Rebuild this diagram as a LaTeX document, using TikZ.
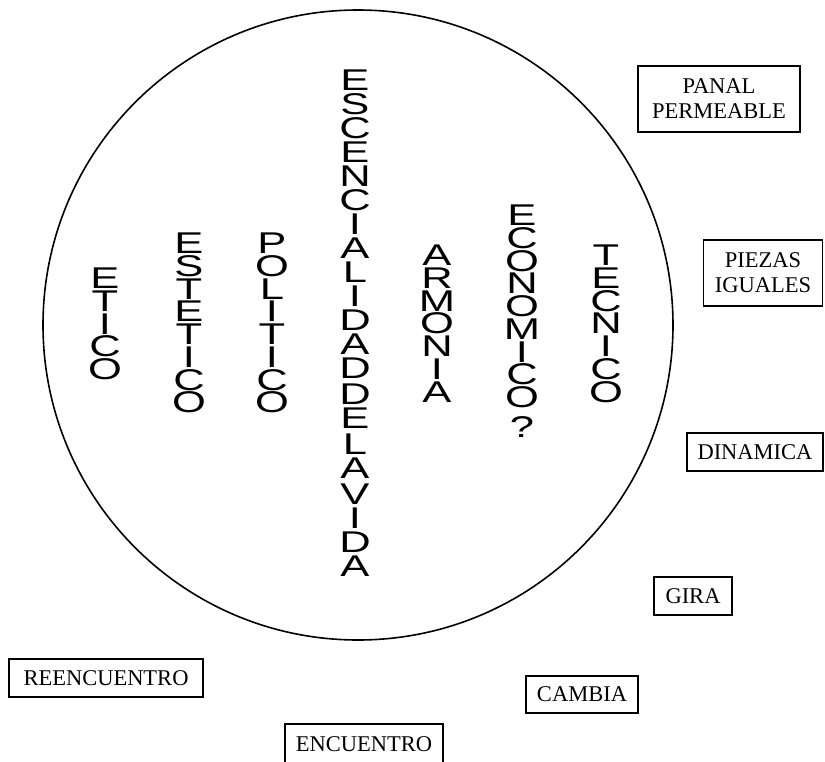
\documentclass[tikz,border=0pt]{standalone}
\usepackage{fontspec}
\usepackage{graphicx}
\newfontfamily\lettersans{Liberation Sans}
\newfontfamily\boxserif{Liberation Serif}
% a word written as a column of stacked capitals; #1 = row pitch, #2 = rows
\newcommand\stackword[2]{%
  \scalebox{1.45}[1]{\vbox{\lettersans\fontsize{30}{#1}\selectfont
    \baselineskip=#1\lineskiplimit=-100pt\lineskip=0pt
    \halign{\hfil##\hfil\cr #2}}}}
\tikzset{
  word/.style={anchor=north, inner sep=0pt},
  label box/.style={draw, line width=1.5pt, inner sep=0pt, align=center,
    font=\boxserif\fontsize{22.5}{25}\selectfont},
}
\begin{document}
\begin{tikzpicture}[x=1pt, y=-1pt]
  \useasboundingbox (0,0) rectangle (825,761);

  % the big circle
  \node[draw, circle, line width=1.6pt, minimum size=630pt, inner sep=0pt]
    (ring) at (358,325) {};

  % vertical words inside the circle
  \node[word] (etico) at (105,268) {\stackword{22.7pt}{E\cr T\cr I\cr C\cr O\cr}};
  \node[word] (estetico) at (189,233) {\stackword{22.7pt}{E\cr S\cr T\cr E\cr T\cr I\cr C\cr O\cr}};
  \node[word] (politico) at (272,233) {\stackword{22.7pt}{P\cr O\cr L\cr I\cr T\cr I\cr C\cr O\cr}};
  \node[word] (vida) at (355,70) {\stackword{24pt}{E\cr S\cr C\cr E\cr N\cr C\cr I\cr A\cr L\cr I\cr D\cr A\cr D\cr
      \noalign{\kern2pt}D\cr E\cr \noalign{\kern2pt}L\cr A\cr \noalign{\kern2pt}V\cr I\cr D\cr A\cr}};
  \node[word] (armonia) at (437,245) {\stackword{22.7pt}{A\cr R\cr M\cr O\cr N\cr I\cr A\cr}};
  \node[word] (economico) at (522,205) {\stackword{22.7pt}{E\cr C\cr O\cr N\cr O\cr M\cr I\cr C\cr O\cr \noalign{\kern7pt}?\cr}};
  \node[word] (tecnico) at (606,245) {\stackword{22.7pt}{T\cr E\cr C\cr N\cr I\cr C\cr O\cr}};

  % boxed labels around the circle
  \node[label box, minimum width=162pt, minimum height=66pt] (panal) at (719,99) {PANAL\\PERMEABLE};
  \node[label box, minimum width=119pt, minimum height=66pt] (piezas) at (763,273) {PIEZAS\\IGUALES};
  \node[label box, minimum width=136pt, minimum height=38pt] (dinamica) at (755,452) {DINAMICA};
  \node[label box, minimum width=78pt, minimum height=38pt] (gira) at (693,596) {GIRA};
  \node[label box, minimum width=194pt, minimum height=38pt] (reencuentro) at (106,678) {REENCUENTRO};
  \node[label box, minimum width=112pt, minimum height=37pt] (cambia) at (582,694.5) {CAMBIA};
  \node[label box, minimum width=158pt, minimum height=40pt] (encuentro) at (364,744) {ENCUENTRO};
\end{tikzpicture}
\end{document}
